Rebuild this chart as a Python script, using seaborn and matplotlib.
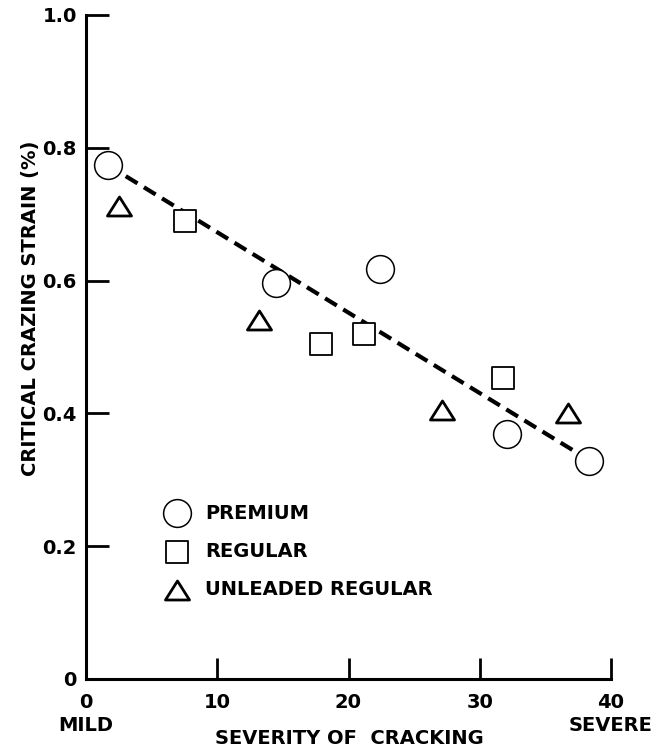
import matplotlib
matplotlib.use("Agg")
import matplotlib.pyplot as plt
from matplotlib.path import Path
import seaborn as sns
import pandas as pd

# values
premium_x = [1.65, 14.5, 22.4, 32.1, 38.3]
premium_y = [0.774, 0.597, 0.618, 0.369, 0.329]
regular_x = [7.55, 17.9, 21.15, 31.75]
regular_y = [0.690, 0.505, 0.520, 0.453]
unleaded_x = [2.55, 13.2, 27.1, 36.7]
unleaded_y = [0.713, 0.540, 0.405, 0.400]
fit_x = [1.65, 38.3]
fit_y = [0.774, 0.330]

x_ticks = [0, 10, 20, 30, 40]
x_ticklabels = ["0\nMILD", "10", "20", "30", "40\nSEVERE"]
y_ticks = [0, 0.2, 0.4, 0.6, 0.8, 1.0]
y_ticklabels = ["0", "0.2", "0.4", "0.6", "0.8", "1.0"]

sns.set_style("white")
plt.rcParams["font.family"] = ["DejaVu Sans"]
plt.rcParams["font.weight"] = "bold"
for key in ["text.color", "axes.labelcolor", "xtick.color", "ytick.color"]:
    plt.rcParams[key] = "black"
FS = 14

fig = plt.figure(figsize=(6.59, 7.49), dpi=100)
fig.subplots_adjust(left=86 / 659, right=611 / 659, bottom=1 - 679 / 749, top=1 - 15 / 749)
ax = fig.add_subplot(111)

fit = pd.DataFrame({"x": fit_x, "y": fit_y})
sns.lineplot(data=fit, x="x", y="y", ax=ax, color="black", lw=3,
             dashes=False, zorder=1)
ax.lines[0].set_dashes((3.3, 1.8))

tri = Path([(-1, -0.79), (1, -0.79), (0, 0.79), (-1, -0.79)], closed=True)
groups = [
    ("PREMIUM", premium_x, premium_y, "o", 400, 1.1),
    ("REGULAR", regular_x, regular_y, "s", 270, 1.3),
    ("UNLEADED REGULAR", unleaded_x, unleaded_y, tri, 300, 2.0),
]
for name, gx, gy, mk, sz, ew in groups:
    df = pd.DataFrame({"x": gx, "y": gy})
    sns.scatterplot(data=df, x="x", y="y", ax=ax, marker=mk, s=sz,
                    facecolor="white", edgecolor="black", linewidth=ew,
                    label=name, zorder=3)

ax.set_xlim(0, 40)
ax.set_ylim(0, 1.0)
ax.set_xticks(x_ticks)
ax.set_xticklabels(x_ticklabels, fontsize=FS, fontweight="bold", linespacing=1.3)
ax.set_yticks(y_ticks)
ax.set_yticklabels(y_ticklabels, fontsize=FS, fontweight="bold")
ax.tick_params(axis="x", bottom=True, direction="in", length=15, width=2,
               pad=10, color="black", labelcolor="black")
ax.tick_params(axis="y", left=True, direction="in", length=16.5, width=2,
               pad=6.5, color="black", labelcolor="black")

sns.despine(ax=ax)
for side in ["left", "bottom"]:
    ax.spines[side].set_linewidth(2.2)
    ax.spines[side].set_color("black")

ax.set_xlabel("SEVERITY OF  CRACKING", fontsize=FS, fontweight="bold", color="black")
ax.xaxis.set_label_coords(0.501, -0.090)
ax.xaxis.label.set_va("center")
ax.set_ylabel("CRITICAL CRAZING STRAIN (%)", fontsize=FS, fontweight="bold", color="black")
ax.yaxis.set_label_coords(-0.105, 0.559)
ax.yaxis.label.set_va("center")

ax.legend(loc="center left", bbox_to_anchor=(0.154, 0.192), frameon=False,
          borderpad=0, borderaxespad=0, handlelength=1.0, handletextpad=0.96,
          labelspacing=1.0, labelcolor="black",
          prop={"size": FS, "weight": "bold"})

fig.savefig("out.png", dpi=100)
